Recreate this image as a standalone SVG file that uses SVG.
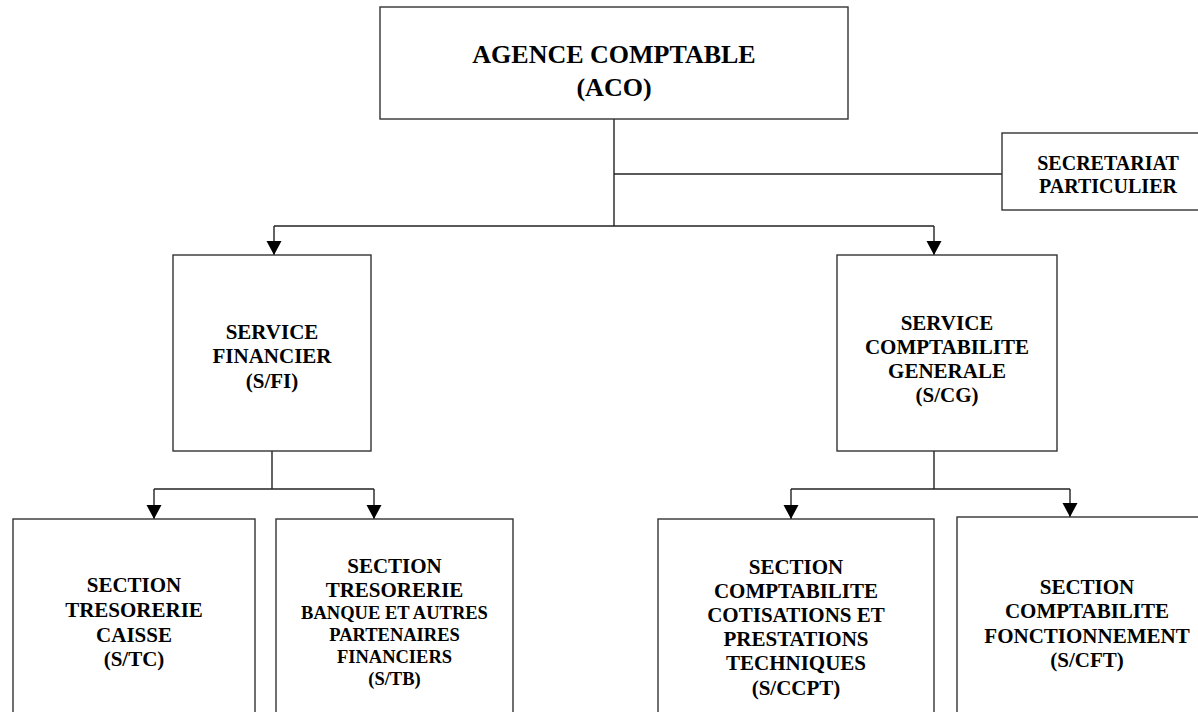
<svg xmlns="http://www.w3.org/2000/svg" width="1198" height="712" viewBox="0 0 1198 712">
  <style>
    .box { fill: #ffffff; stroke: #333333; stroke-width: 1.4; }
    .conn { fill: none; stroke: #222222; stroke-width: 1.4; }
    text { font-family: "Liberation Serif", "Times New Roman", serif; font-weight: bold; fill: #000000; text-anchor: middle; }
    .t26 { font-size: 26px; }
    .t21 { font-size: 21px; }
    .t20 { font-size: 20px; }
    .t18 { font-size: 18.5px; }
  </style>
  <defs>
    <marker id="arrow" markerUnits="userSpaceOnUse" markerWidth="16" markerHeight="16" viewBox="0 0 16 16" refX="8" refY="15" orient="auto-start-reverse">
      <path d="M0.5,1 L15.5,1 L8,15 Z" fill="#000000" transform="rotate(-90 8 8)"/>
    </marker>
    <marker id="down" markerUnits="userSpaceOnUse" markerWidth="16" markerHeight="16" viewBox="0 0 16 16" refX="8" refY="15" orient="0">
      <path d="M0.5,1 L15.5,1 L8,15 Z" fill="#000000"/>
    </marker>
  </defs>

  <g id="connectors">
    <path class="conn" d="M614,119 V226"/>
    <path class="conn" d="M614,174 H1002"/>
    <path class="conn" d="M274,226 H934"/>
    <path class="conn" d="M274,226 V255" marker-end="url(#down)"/>
    <path class="conn" d="M934,226 V255" marker-end="url(#down)"/>
    <path class="conn" d="M272,451 V489"/>
    <path class="conn" d="M154,489 H374"/>
    <path class="conn" d="M154,489 V519" marker-end="url(#down)"/>
    <path class="conn" d="M374,489 V519" marker-end="url(#down)"/>
    <path class="conn" d="M934,451 V489"/>
    <path class="conn" d="M791,489 H1070"/>
    <path class="conn" d="M791,489 V519" marker-end="url(#down)"/>
    <path class="conn" d="M1070,489 V517" marker-end="url(#down)"/>
  </g>

  <g id="aco">
    <rect class="box" x="380" y="7" width="468" height="112"/>
    <text class="t26" x="614" y="63">AGENCE COMPTABLE</text>
    <text class="t26" x="614" y="96">(ACO)</text>
  </g>

  <g id="secretariat">
    <rect class="box" x="1002" y="133" width="215" height="77"/>
    <text class="t20" x="1108" y="170">SECRETARIAT</text>
    <text class="t20" x="1108" y="193">PARTICULIER</text>
  </g>

  <g id="service-financier">
    <rect class="box" x="173" y="255" width="198" height="196"/>
    <text class="t21" x="272" y="339">SERVICE</text>
    <text class="t21" x="272" y="363">FINANCIER</text>
    <text class="t21" x="272" y="388">(S/FI)</text>
  </g>

  <g id="service-comptabilite-generale">
    <rect class="box" x="837" y="255" width="220" height="196"/>
    <text class="t21" x="947" y="330">SERVICE</text>
    <text class="t21" x="947" y="354">COMPTABILITE</text>
    <text class="t21" x="947" y="378">GENERALE</text>
    <text class="t21" x="947" y="402">(S/CG)</text>
  </g>

  <g id="section-tresorerie-caisse">
    <rect class="box" x="13" y="519" width="242" height="220"/>
    <text class="t21" x="134" y="592">SECTION</text>
    <text class="t21" x="134" y="617">TRESORERIE</text>
    <text class="t21" x="134" y="642">CAISSE</text>
    <text class="t21" x="134" y="666">(S/TC)</text>
  </g>

  <g id="section-tresorerie-banque">
    <rect class="box" x="276" y="519" width="237" height="220"/>
    <text class="t21" x="394.5" y="573">SECTION</text>
    <text class="t21" x="394.5" y="597">TRESORERIE</text>
    <text class="t18" x="394.5" y="619">BANQUE ET AUTRES</text>
    <text class="t18" x="394.5" y="641">PARTENAIRES</text>
    <text class="t18" x="394.5" y="663">FINANCIERS</text>
    <text class="t18" x="394.5" y="685">(S/TB)</text>
  </g>

  <g id="section-comptabilite-cotisations">
    <rect class="box" x="658" y="519" width="276" height="220"/>
    <text class="t21" x="796" y="574">SECTION</text>
    <text class="t21" x="796" y="598">COMPTABILITE</text>
    <text class="t21" x="796" y="622">COTISATIONS ET</text>
    <text class="t21" x="796" y="646">PRESTATIONS</text>
    <text class="t21" x="796" y="670">TECHNIQUES</text>
    <text class="t21" x="796" y="695">(S/CCPT)</text>
  </g>

  <g id="section-comptabilite-fonctionnement">
    <rect class="box" x="957" y="517" width="260" height="220"/>
    <text class="t21" x="1087" y="594">SECTION</text>
    <text class="t21" x="1087" y="618">COMPTABILITE</text>
    <text class="t21" x="1087" y="643">FONCTIONNEMENT</text>
    <text class="t21" x="1087" y="667">(S/CFT)</text>
  </g>
</svg>
